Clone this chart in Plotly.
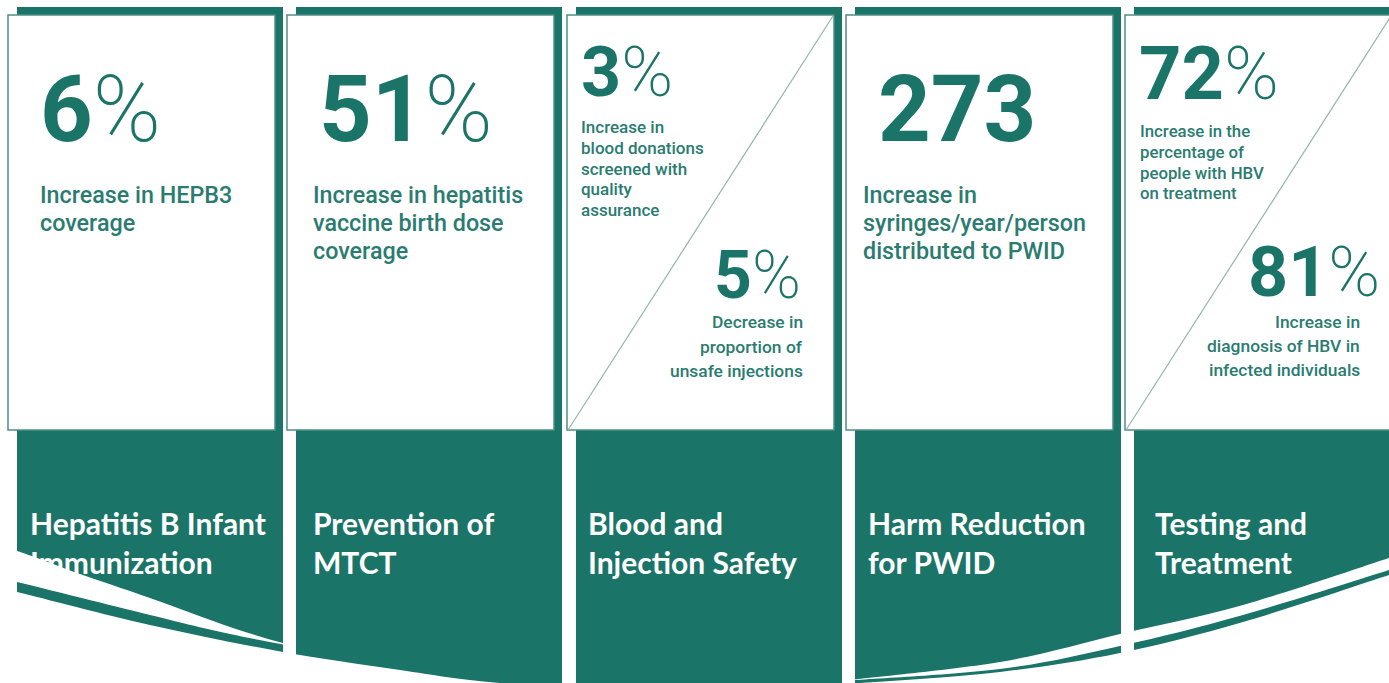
import numpy as np
import plotly.graph_objects as go

# ---------------- data ----------------
headings = ["Hepatitis B Infant<br>Immunization", "Prevention of<br>MTCT",
            "Blood and<br>Injection Safety", "Harm Reduction<br>for PWID",
            "Testing and<br>Treatment"]
main_values = ["6", "51", "3", "273", "72"]
main_units = ["%", "%", "%", "", "%"]
main_labels = ["Increase in HEPB3<br>coverage",
               "Increase in hepatitis<br>vaccine birth dose<br>coverage",
               "Increase in<br>blood donations<br>screened with<br>quality<br>assurance",
               "Increase in<br>syringes/year/person<br>distributed to PWID",
               "Increase in the<br>percentage of<br>people with HBV<br>on treatment"]
second_values = ["", "", "5", "", "81"]
second_units = ["", "", "%", "", "%"]
second_labels = ["", "", "Decrease in<br>proportion of<br>unsafe injections", "",
                 "Increase in<br>diagnosis of HBV in<br>infected individuals"]

# ---------------- layout / style ----------------
W, H = 1389, 683
TEAL = "#1b7468"
TXT = "#2a7c71"
BORDER = "#4e8f85"
card_left = [8, 287, 567, 846, 1125]
CARD_W, CARD_TOP, CARD_BOT = 267, 15, 430
TEAL_DX, TEAL_TOP, TEAL_W = 9, 7, 266
head_x = [30, 313, 588, 868, 1155]
HEAD_Y = 547
label_x = [38, 311, None, 861, None]   # single-stat panels: left edge of label block

# split-panel positions (top-left block and bottom-right block)
split_style = {
    2: dict(tx=579, ty=72, tsize=70, lx=579, ly=127, lsize=17, lstep=20.8,
            bx=803, by=275, bsize=66, blx=805, bly=322, blsize=17.4, blstep=24.5),
    4: dict(tx=1137, ty=73, tsize=74, lx=1138, ly=131, lsize=16.8, lstep=20.8,
            bx=1382, by=272, bsize=70, blx=1362, bly=322, blsize=17.4, blstep=24),
}


def add_lines(text, x, y0, step, size, xanchor):
    for k, line in enumerate(text.split("<br>")):
        annotations.append(dict(x=x, y=y0 + k * step, text=line, xanchor=xanchor,
                                yanchor="middle", showarrow=False,
                                font=dict(family="Roboto", size=size, color=TXT,
                                          weight=500)))


fig = go.Figure()
shapes, annotations = [], []

for i, cl in enumerate(card_left):
    tl = cl + TEAL_DX
    shapes.append(dict(type="rect", xref="x", yref="y", x0=tl, x1=tl + TEAL_W,
                       y0=TEAL_TOP, y1=H + 20, fillcolor=TEAL, line=dict(width=0),
                       layer="below"))
    shapes.append(dict(type="rect", xref="x", yref="y", x0=cl, x1=cl + CARD_W,
                       y0=CARD_TOP, y1=CARD_BOT, fillcolor="white",
                       line=dict(color=BORDER, width=1.5), layer="below"))
    num_txt = f"<b>{main_values[i]}</b>"
    if main_units[i]:
        num_txt += f"<span style='font-weight:200'>{main_units[i]}</span>"
    if second_values[i]:
        s = split_style[i]
        shapes.append(dict(type="line", xref="x", yref="y", x0=cl + 1, y0=CARD_BOT,
                           x1=cl + CARD_W - 1, y1=CARD_TOP + 1,
                           line=dict(color="#93b5ae", width=1.2), layer="below"))
        annotations.append(dict(x=s["tx"], y=s["ty"], text=num_txt, xanchor="left",
                                yanchor="middle", showarrow=False,
                                font=dict(family="Roboto", size=s["tsize"], color=TEAL)))
        add_lines(main_labels[i], s["lx"], s["ly"], s["lstep"], s["lsize"], "left")
        sec_txt = (f"<b>{second_values[i]}</b>"
                   f"<span style='font-weight:200'>{second_units[i]}</span>")
        annotations.append(dict(x=s["bx"], y=s["by"], text=sec_txt, xanchor="right",
                                yanchor="middle", showarrow=False,
                                font=dict(family="Roboto", size=s["bsize"], color=TEAL)))
        add_lines(second_labels[i], s["blx"], s["bly"], s["blstep"], s["blsize"], "right")
    else:
        annotations.append(dict(x=cl + 30, y=109, text=num_txt, xanchor="left",
                                yanchor="middle", showarrow=False,
                                font=dict(family="Roboto", size=92, color=TEAL)))
        add_lines(main_labels[i], label_x[i], 194.5, 28, 23.3, "left")

# headings (as a text trace so the decorative swoosh can overlap them)
fig.add_trace(go.Scatter(x=head_x, y=[HEAD_Y] * len(headings), text=headings,
                         mode="text", textposition="middle right", hoverinfo="skip",
                         textfont=dict(family="Lato", size=30, color="white", weight=700),
                         showlegend=False))


# ---------------- decorative swoosh ----------------
def spline(pts, start=True):
    p = np.array(pts, float)
    d = f"M {p[0,0]:.1f},{p[0,1]:.1f}" if start else f" L {p[0,0]:.1f},{p[0,1]:.1f}"
    for k in range(len(p) - 1):
        p0 = p[k - 1] if k > 0 else p[k]
        p1, p2 = p[k], p[k + 1]
        p3 = p[k + 2] if k + 2 < len(p) else p[k + 1]
        c1 = p1 + (p2 - p0) / 6
        c2 = p2 - (p3 - p1) / 6
        d += f" C {c1[0]:.1f},{c1[1]:.1f} {c2[0]:.1f},{c2[1]:.1f} {p2[0]:.1f},{p2[1]:.1f}"
    return d


lower_edge = [(-5, 588), (17, 592), (150, 625), (283, 652), (400, 670), (500, 683),
              (680, 694), (860, 683), (1000, 672), (1120, 653), (1243, 622),
              (1389, 575), (1400, 571)]
left_top = [(-5, 546), (17, 551), (40, 559), (80, 574), (150, 598), (233, 628), (297, 647)]
left_bot = [(-5, 578), (17, 582), (150, 615), (230, 634), (297, 647)]
right_top = [(840, 681), (1000, 662), (1120, 634), (1243, 605), (1389, 558), (1400, 554)]
right_bot = [(840, 681), (1000, 669), (1120, 646), (1243, 615), (1389, 570), (1400, 566)]

deco_paths = [
    spline(lower_edge) + " L 1400,720 L -5,720 Z",
    spline(left_top) + spline(left_bot[::-1], start=False) + " Z",
    spline(right_top) + spline(right_bot[::-1], start=False) + " Z",
]
for pth in deco_paths:
    shapes.append(dict(type="path", xref="x", yref="y", path=pth, fillcolor="white",
                       line=dict(width=0), layer="above"))

fig.update_layout(
    width=W, height=H, margin=dict(l=0, r=0, t=0, b=0),
    paper_bgcolor="white", plot_bgcolor="white",
    xaxis=dict(range=[0, W], visible=False, fixedrange=True),
    yaxis=dict(range=[H, 0], visible=False, fixedrange=True),
    shapes=shapes, annotations=annotations, showlegend=False,
)

fig.write_html("out.html", config={"displayModeBar": False},
               post_script="document.body.style.margin='0';document.body.style.overflow='hidden';")
